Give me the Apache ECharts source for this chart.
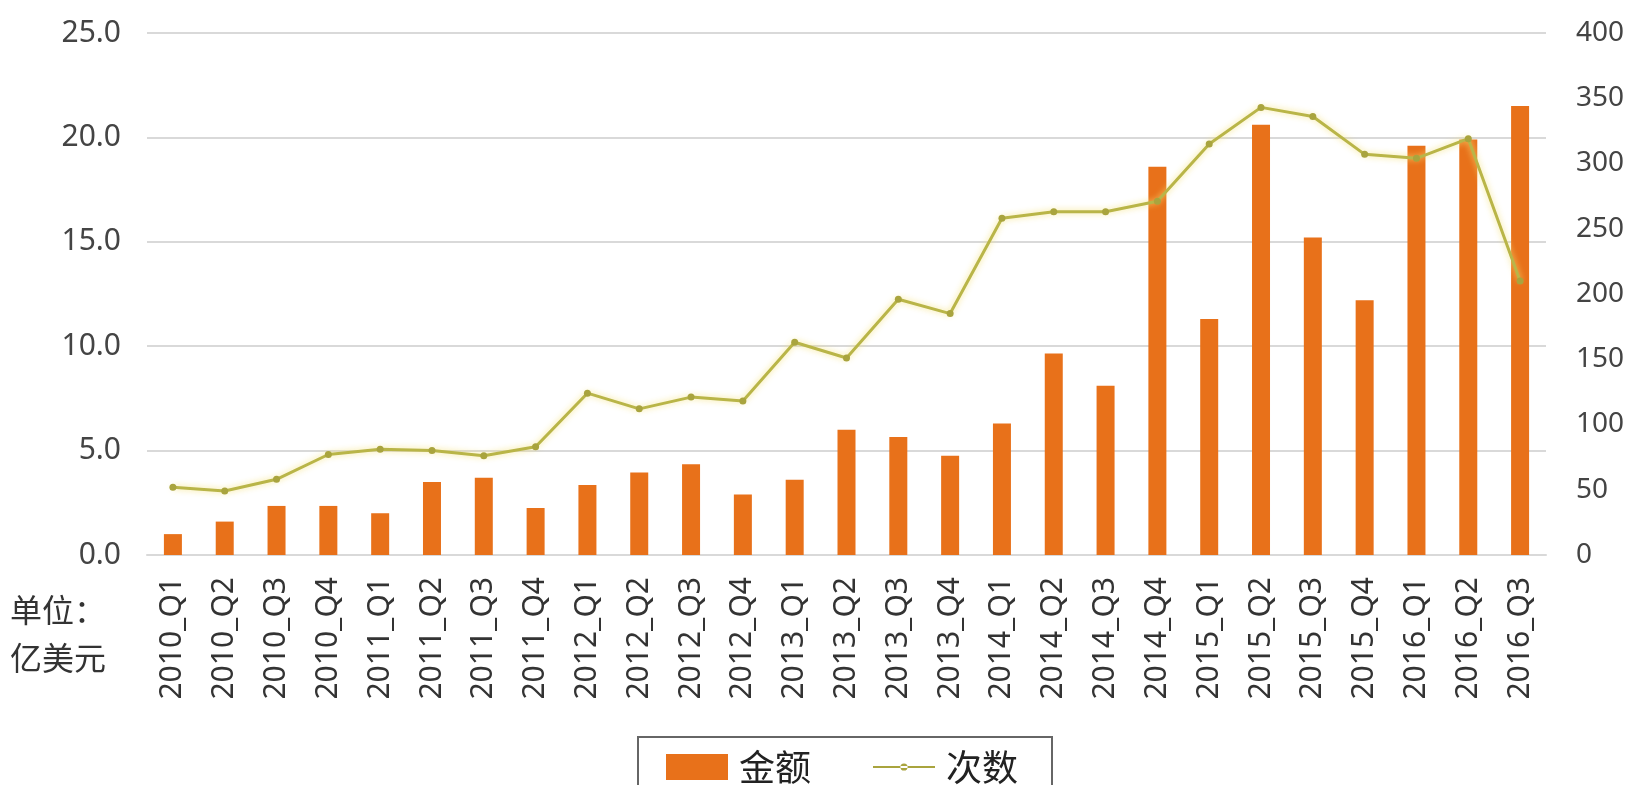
<!DOCTYPE html>
<html><head><meta charset="utf-8">
<script src="https://cdn.jsdelivr.net/npm/echarts@6/dist/echarts.min.js"></script>
<style>html,body{margin:0;padding:0;background:#fff}#c{width:1648px;height:785px}</style>
</head><body><div id="c"></div>
<script>
const categories = ["2010_Q1","2010_Q2","2010_Q3","2010_Q4","2011_Q1","2011_Q2","2011_Q3","2011_Q4","2012_Q1","2012_Q2","2012_Q3","2012_Q4","2013_Q1","2013_Q2","2013_Q3","2013_Q4","2014_Q1","2014_Q2","2014_Q3","2014_Q4","2015_Q1","2015_Q2","2015_Q3","2015_Q4","2016_Q1","2016_Q2","2016_Q3"];
const amount = [1.0,1.6,2.35,2.35,2.0,3.5,3.7,2.25,3.35,3.95,4.35,2.9,3.6,6.0,5.65,4.75,6.3,9.65,8.1,18.6,11.3,20.6,15.2,12.2,19.6,19.9,21.5];
const count = [52,49,58,77,81,80,76,83,124,112,121,118,163,151,196,185,258,263,263,271,315,343,336,307,304,319,210];
const leftTicks = {min:0,max:25,interval:5};
const rightTicks = {min:0,max:400,interval:50};
const seriesNames = ["金额","次数"];
const unitLines = ["单位：","亿美元"];

const chart = echarts.init(document.getElementById('c'));
const font = "'Noto Sans','Noto Sans CJK SC',sans-serif";
chart.setOption({
  animation:false,
  grid:{left:147,right:102,top:33,bottom:230},
  graphic:[
    {type:'text',left:10,top:594,style:{text:unitLines[0],fill:'#333',font:"32px 'Noto Sans CJK SC'"}},
    {type:'text',left:10,top:642,style:{text:unitLines[1],fill:'#333',font:"32px 'Noto Sans CJK SC'"}}
  ],
  legend:{
    left:638,top:737,
    padding:[12,34,30,28],
    itemGap:62,itemWidth:62,itemHeight:26,
    borderColor:'#666',borderWidth:2,
    textStyle:{fontSize:36,color:'#222',fontFamily:"'Noto Sans CJK SC'",padding:[0,0,0,6]},
    data:[{name:seriesNames[0],icon:'rect'},
          {name:seriesNames[1],icon:'path://M0,2.5h60v2h-60z M26.5,3.5a3.5,3.5 0 1,0 7,0a3.5,3.5 0 1,0 -7,0z'}]
  },
  xAxis:{
    type:'category',data:categories,
    axisLine:{lineStyle:{color:'#d9d9d9',width:2}},
    axisTick:{show:false},
    axisLabel:{rotate:90,interval:0,fontSize:30,color:'#333',margin:22,fontFamily:font}
  },
  yAxis:[
    {type:'value',min:leftTicks.min,max:leftTicks.max,interval:leftTicks.interval,
     axisLabel:{formatter:v=>v.toFixed(1),fontSize:30,color:'#444',margin:26,fontFamily:font},
     splitLine:{lineStyle:{color:'#d9d9d9',width:2}},axisLine:{show:false},axisTick:{show:false}},
    {type:'value',min:rightTicks.min,max:rightTicks.max,interval:rightTicks.interval,position:'right',
     axisLabel:{fontSize:28,color:'#444',margin:30,fontFamily:font},
     splitLine:{show:false},axisLine:{show:false},axisTick:{show:false}}
  ],
  series:[
    {name:seriesNames[0],type:'bar',data:amount,barWidth:18,yAxisIndex:0,
     itemStyle:{color:'#e8711a'}},
    {name:seriesNames[1],type:'line',data:count,yAxisIndex:1,
     symbol:'circle',symbolSize:7,
     lineStyle:{color:'#b9b548',width:3,shadowColor:'rgba(245,225,120,0.9)',shadowBlur:6},
     itemStyle:{color:'#a9a43e'}}
  ]
});
</script></body></html>
